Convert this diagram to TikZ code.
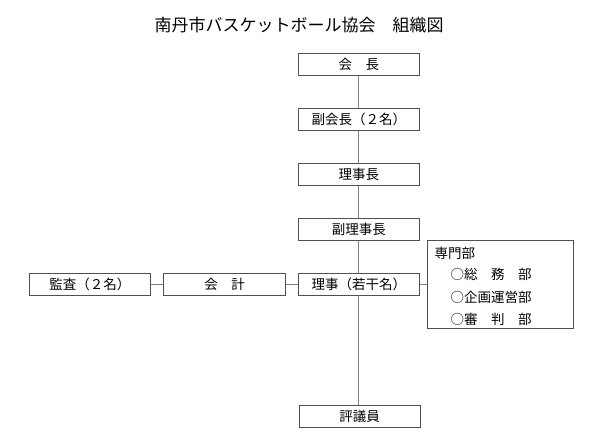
\documentclass[tikz,border=0pt]{standalone}
\usepackage{fontspec}
\setmainfont{Noto Sans CJK JP}
\definecolor{linegray}{RGB}{128,128,128}
\definecolor{boxgray}{RGB}{80,80,80}
\begin{document}
\begin{tikzpicture}[x=1pt,y=-1pt,
  orgbox/.style={draw=boxgray,line width=0.9pt,fill=white,minimum width=121pt,minimum height=22pt,inner sep=0pt,font=\fontsize{13.5}{16}\selectfont},
  conn/.style={draw=linegray,line width=1pt},
  itemtext/.style={anchor=west,inner sep=0pt,font=\fontsize{13.5}{16}\selectfont}]
\useasboundingbox (0,0) rectangle (600,441);
\node[inner sep=0pt,font=\fontsize{17}{20}\selectfont] (title) at (299,25) {南丹市バスケットボール協会　組織図};
% spine
\coordinate (top) at (358,75);
\coordinate (bot) at (358,405);
\draw[conn] (top) -- (bot);
\node[orgbox] (kaicho) at (358.8,64.3) {会　長};
\node[orgbox] (fuku) at (358.8,119.2) {副会長（２名）};
\node[orgbox] (rijicho) at (358.8,174.5) {理事長};
\node[orgbox] (fukuriji) at (358.8,229.2) {副理事長};
\node[orgbox] (riji) at (358.8,284.2) {理事（若干名）};
\node[orgbox] (hyogi) at (359.5,416.2) {評議員};
\node[orgbox,minimum width=121.7pt] (kansa) at (89.9,284.2) {監査（２名）};
\node[orgbox,minimum width=122.4pt] (kaikei) at (224.5,284.2) {会　計};
\node[draw=boxgray,line width=0.9pt,fill=white,minimum width=146.7pt,minimum height=88pt,inner sep=0pt] (senmon) at (500.3,284) {};
\node[itemtext] (s0) at (434.5,253) {専門部};
\node[itemtext] (s1) at (450.5,274.5) {○総　務　部};
\node[itemtext] (s2) at (450.5,297.5) {○企画運営部};
\node[itemtext] (s3) at (450.5,319.5) {○審　判　部};
\draw[conn] (kansa.east) -- (kaikei.west);
\draw[conn] (kaikei.east) -- (riji.west);
\draw[conn] (riji.east) -- (senmon.west |- riji.east);
\end{tikzpicture}
\end{document}
